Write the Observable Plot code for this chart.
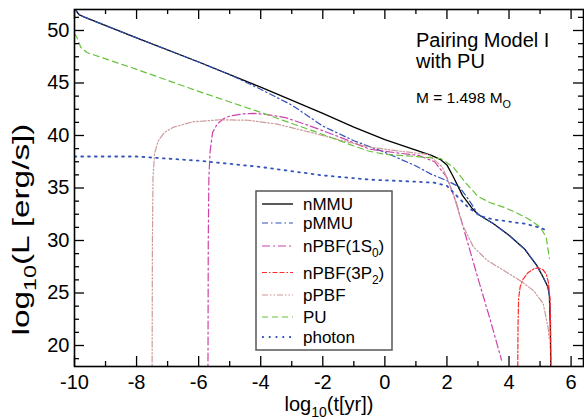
<!DOCTYPE html>
<html><head><meta charset="utf-8">
<script src="https://cdn.jsdelivr.net/npm/d3@7"></script>
<script src="https://cdn.jsdelivr.net/npm/@observablehq/plot@0.6"></script>
<style>
body{margin:0;background:#fff}
#chart{width:584px;height:420px}
</style>
</head><body><div id="chart"></div>
<script>
// ---- data (log10 t [yr], log10 L [erg/s]) ----
const nMMU_x = [-10, -9.95, -9.85, -9.7, -8, -6, -4, -2, -1, 0, 1, 1.5, 1.8, 2.0, 2.2, 2.5, 2.8, 3.0, 3.5, 4.0, 4.5, 4.9, 5.1, 5.25, 5.3, 5.33, 5.35];
const nMMU_y = [52.3, 51.9, 51.5, 51.3, 49.3, 47.0, 44.6, 42.1, 40.8, 39.6, 38.6, 38.1, 37.7, 37.2, 36.1, 34.3, 33.1, 32.5, 31.6, 30.5, 29.2, 27.6, 26.5, 25.6, 24.8, 22, 17];

const pMMU_x = [-10, -9.95, -9.85, -9.7, -8, -6, -5, -4, -3, -2, -1, 0, 1, 1.5, 2.0, 2.4, 2.7, 3.0, 3.5, 4.0, 4.5, 4.9, 5.1, 5.25, 5.3, 5.33];
const pMMU_y = [52.3, 51.9, 51.5, 51.3, 49.3, 47.0, 45.8, 44.4, 42.9, 40.9, 39.5, 38.4, 37.1, 36.3, 35.7, 35.1, 33.9, 32.5, 31.6, 30.5, 29.2, 27.6, 26.5, 25.6, 24.8, 22.5];

const nPBF1S0_x = [-5.70, -5.69, -5.67, -5.63, -5.55, -5.4, -5.2, -5.0, -4.6, -4.2, -3.8, -3.2, -2.4, -1.5, -0.5, 0.5, 1.1, 1.6, 2.0, 2.3, 2.6, 3.0, 3.4, 3.76];
const nPBF1S0_y = [17, 30, 36, 38.5, 40.3, 41.1, 41.6, 41.85, 42.05, 42.1, 42.0, 41.7, 40.9, 39.9, 38.7, 38.3, 38.1, 37.5, 36.0, 33.6, 30.5, 26.4, 22.4, 18.6];

const nPBF3P2_x = [4.28, 4.29, 4.31, 4.36, 4.45, 4.6, 4.8, 4.95, 5.1, 5.2, 5.27, 5.32, 5.34, 5.35];
const nPBF3P2_y = [17, 22, 24.5, 25.6, 26.3, 26.9, 27.3, 27.4, 27.2, 26.8, 26.0, 24.5, 22, 17];

const pPBF_x = [-7.50, -7.49, -7.47, -7.42, -7.3, -7.1, -6.8, -6.2, -5.3, -4.4, -3.5, -2.4, -1.5, -0.5, 0.5, 1.4, 1.85, 2.2, 2.5, 2.85, 3.3, 3.8, 4.35, 4.8, 5.1, 5.26, 5.3];
const pPBF_y = [17, 30, 36, 38.3, 39.5, 40.3, 40.8, 41.3, 41.5, 41.45, 41.1, 40.3, 39.6, 38.9, 38.5, 38.2, 37.0, 34.5, 31.5, 29.4, 28.1, 27.2, 26.2, 25.2, 24.0, 21.7, 20.5];

const PU_x = [-10, -9.9, -9.8, -9.6, -8, -6, -4, -2, -1, -0.5, 0, 1, 1.8, 2.2, 2.6, 3.0, 3.4, 3.8, 4.2, 4.6, 5.0, 5.2, 5.3];
const PU_y = [49.7, 49.2, 48.4, 47.9, 46.3, 44.2, 42.2, 40.1, 39.0, 38.5, 38.2, 38.0, 37.8, 37.0, 35.5, 34.2, 33.6, 33.2, 32.7, 32.1, 31.3, 30.3, 28.3];

const photon_x = [-10, -8, -6, -4, -2, -0.5, 1, 1.6, 2.0, 2.3, 2.7, 3.1, 3.5, 4.0, 4.5, 4.9, 5.2];
const photon_y = [38.0, 38.0, 37.6, 37.0, 36.2, 35.8, 35.6, 35.5, 35.2, 34.3, 33.1, 32.3, 32.0, 31.8, 31.6, 31.3, 31.0];

const xMajor = [-10, -8, -6, -4, -2, 0, 2, 4, 6];
const yMajor = [20, 25, 30, 35, 40, 45, 50];
const xMinor = d3.range(-9, 6.01, 1).filter(v => !xMajor.includes(v));
const yMinor = d3.range(18.75, 52, 1.25).filter(v => !yMajor.includes(v));

// ---- styles ----
const series = [
  {name: "nMMU",    x: nMMU_x,    y: nMMU_y,    color: "#000000", dash: null,              width: 1.3},
  {name: "pMMU",    x: pMMU_x,    y: pMMU_y,    color: "#3050b8", dash: "6,3,1.5,3",       width: 1.2},
  {name: "nPBF1S0", x: nPBF1S0_x, y: nPBF1S0_y, color: "#cc44aa", dash: "8,3,2,3",         width: 1.2},
  {name: "nPBF3P2", x: nPBF3P2_x, y: nPBF3P2_y, color: "#ff2a2a", dash: "5,2,1.5,2,5,2",   width: 1.2},
  {name: "pPBF",    x: pPBF_x,    y: pPBF_y,    color: "#cc9999", dash: "6,2,1.5,2,1.5,2", width: 1.2},
  {name: "PU",      x: PU_x,      y: PU_y,      color: "#66c23a", dash: "6,4",             width: 1.2},
  {name: "photon",  x: photon_x,  y: photon_y,  color: "#3355bb", dash: "1.8,5",           width: 1.8}
];

const W = 584, H = 420, mL = 74, mR = 1, mT = 9, mB = 54;
const innerW = W - mL - mR, innerH = H - mT - mB;
const font = "'Liberation Sans', Arial, Helvetica, sans-serif";

const lineMarks = series.map(s =>
  Plot.line(s.x.map((v, i) => ({x: v, y: s.y[i]})), {
    x: "x", y: "y", stroke: s.color, strokeWidth: s.width,
    strokeDasharray: s.dash, clip: true
  })
);

const tickMarks = [
  Plot.ruleX(xMajor, {x: d => d, insetTop: innerH - 10, strokeWidth: 1.3}),
  Plot.ruleX(xMinor, {x: d => d, insetTop: innerH - 5, strokeWidth: 1.3}),
  Plot.ruleX(xMajor, {x: d => d, insetBottom: innerH - 10, strokeWidth: 1.3}),
  Plot.ruleX(xMinor, {x: d => d, insetBottom: innerH - 5, strokeWidth: 1.3}),
  Plot.ruleY(yMajor, {y: d => d, insetRight: innerW - 10, strokeWidth: 1.3}),
  Plot.ruleY(yMinor, {y: d => d, insetRight: innerW - 5, strokeWidth: 1.3}),
  Plot.ruleY(yMajor, {y: d => d, insetLeft: innerW - 10, strokeWidth: 1.3}),
  Plot.ruleY(yMinor, {y: d => d, insetLeft: innerW - 5, strokeWidth: 1.3})
];

const svg = Plot.plot({
  width: W, height: H,
  marginLeft: mL, marginRight: mR, marginTop: mT, marginBottom: mB,
  style: {fontFamily: font, background: "white", color: "black"},
  x: {domain: [-10, 6.4], label: null},
  y: {domain: [18, 52], label: null},
  marks: [
    ...lineMarks,
    ...tickMarks,
    Plot.frame({stroke: "black", strokeWidth: 1.6}),
    Plot.axisX({ticks: xMajor, tickSize: 0, tickPadding: 8, fontSize: 20, tickFormat: d => String(d), label: null}),
    Plot.axisY({ticks: yMajor, tickSize: 0, tickPadding: 5, fontSize: 20, tickFormat: d => String(d), label: null})
  ]
});
document.getElementById("chart").appendChild(svg);

// ---- text helpers ----
const root = d3.select(svg);
function richText(g, x, y, parts, size, opts = {}) {
  const t = g.append("text").attr("x", x).attr("y", y)
    .attr("font-family", font).attr("font-size", size).attr("fill", "black")
    .attr("text-anchor", opts.anchor || "start");
  if (opts.transform) t.attr("transform", opts.transform);
  parts.forEach(p => {
    const sp = t.append("tspan").text(p.t);
    if (p.sub) sp.attr("font-size", size * 0.7).attr("dy", size * 0.3);
    if (p.back) sp.attr("dy", -size * 0.3);
  });
  return t;
}

// axis titles
richText(root, 329, 411, [{t: "log"}, {t: "10", sub: true}, {t: "(t[yr])", back: true}], 20, {anchor: "middle"});
const yTitle = richText(root, 0, 0, [{t: "log"}, {t: "10", sub: true}, {t: "(L [erg/s])", back: true}], 24,
  {anchor: "middle", transform: "translate(29,229.5) rotate(-90)"});
{
  const len = yTitle.node().getComputedTextLength();
  const k = len > 0 ? 212 / len : 1;
  yTitle.attr("transform", `translate(29,229.5) rotate(-90) scale(${k},1)`);
}

// annotation
richText(root, 416, 47, [{t: "Pairing Model I"}], 20);
richText(root, 416, 68, [{t: "with PU"}], 20);
richText(root, 416, 103, [{t: "M = 1.498 M"}, {t: "O", sub: true}], 15.5);

// legend
const lg = root.append("g");
lg.append("rect").attr("x", 256).attr("y", 191).attr("width", 136).attr("height", 159)
  .attr("fill", "white").attr("stroke", "#555").attr("stroke-width", 1.5);
const legendLabels = [
  [{t: "nMMU"}],
  [{t: "pMMU"}],
  [{t: "nPBF(1S"}, {t: "0", sub: true}, {t: ")", back: true}],
  [{t: "nPBF(3P"}, {t: "2", sub: true}, {t: ")", back: true}],
  [{t: "pPBF"}],
  [{t: "PU"}],
  [{t: "photon"}]
];
const rowY = [204, 223, 246, 272.5, 295, 317, 337];
series.forEach((s, i) => {
  lg.append("line").attr("x1", 262).attr("x2", 293).attr("y1", rowY[i]).attr("y2", rowY[i])
    .attr("stroke", s.color).attr("stroke-width", s.width)
    .attr("stroke-dasharray", s.dash);
  richText(lg, 303, rowY[i] + 6, legendLabels[i], 17);
});
</script>
</body></html>
